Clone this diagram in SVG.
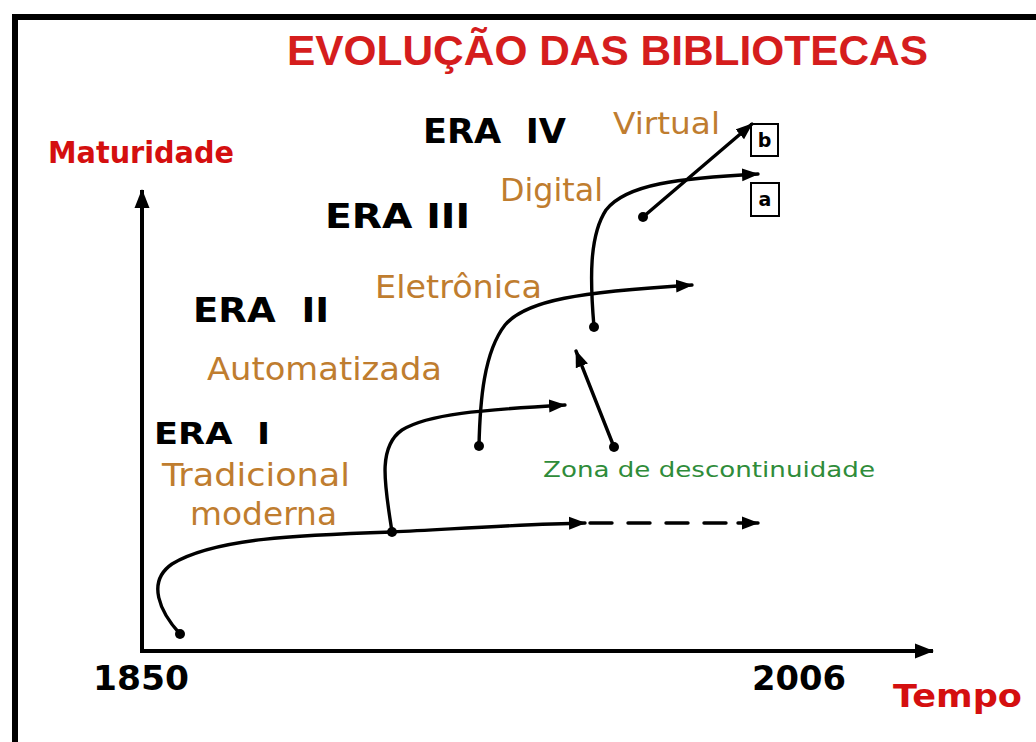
<svg xmlns="http://www.w3.org/2000/svg" width="1036" height="742" viewBox="0 0 1036 742">
<defs>
<style>
.title{font-family:"Liberation Sans",Arial,sans-serif;font-weight:bold;fill:#d51d1d}
.red{font-family:"DejaVu Sans",Verdana,sans-serif;font-weight:bold;fill:#d40f0f}
.era{font-family:"DejaVu Sans",Verdana,sans-serif;font-weight:bold;fill:#000;white-space:pre}
.yr{font-family:"DejaVu Sans",Verdana,sans-serif;font-weight:bold;fill:#000}
.lbl{font-family:"DejaVu Sans",Verdana,sans-serif;fill:#bf7d2f}
.zona{font-family:"DejaVu Sans",Verdana,sans-serif;fill:#2f8c3a}
.box{fill:#fff;stroke:#000;stroke-width:2}
.boxt{font-family:"DejaVu Sans",Verdana,sans-serif;font-weight:bold;font-size:19px;fill:#000}
.ln{fill:none;stroke:#000;stroke-width:3.4;stroke-linecap:round}
.axis{fill:none;stroke:#000;stroke-width:4}
.dot{fill:#000}
</style>
<marker id="ah" markerUnits="userSpaceOnUse" markerWidth="18" markerHeight="14" refX="16" refY="7" orient="auto">
<path d="M0,0.5 L17,7 L0,13.5 Z" fill="#000"/>
</marker>
<marker id="ahAxis" markerUnits="userSpaceOnUse" markerWidth="20" markerHeight="16" refX="18" refY="8" orient="auto">
<path d="M0,0.5 L19,8 L0,15.5 Z" fill="#000"/>
</marker>
</defs>
<rect width="1036" height="742" fill="#fff"/>
<path d="M15,742 V17 H1036" fill="none" stroke="#000" stroke-width="6"/>

<text class="title" x="287" y="65" font-size="42" textLength="641" lengthAdjust="spacingAndGlyphs">EVOLUÇÃO DAS BIBLIOTECAS</text>

<g id="axes">
<path class="axis" d="M142,651 V190" marker-end="url(#ahAxis)"/>
<path class="axis" d="M140,651 H933" marker-end="url(#ahAxis)"/>
<text class="red" x="48" y="163" font-size="30" textLength="186" lengthAdjust="spacingAndGlyphs">Maturidade</text>
<text class="red" x="893" y="707" font-size="32" textLength="129" lengthAdjust="spacingAndGlyphs">Tempo</text>
<text class="yr" x="93" y="690" font-size="33" textLength="96" lengthAdjust="spacingAndGlyphs">1850</text>
<text class="yr" x="752" y="690" font-size="33" textLength="94" lengthAdjust="spacingAndGlyphs">2006</text>
</g>

<g id="era1">
<text class="era" x="154" y="444" font-size="31" textLength="116" lengthAdjust="spacingAndGlyphs">ERA  I</text>
<text class="lbl" x="162" y="486" font-size="32" textLength="188" lengthAdjust="spacingAndGlyphs">Tradicional</text>
<text class="lbl" x="190" y="525" font-size="32" textLength="147" lengthAdjust="spacingAndGlyphs">moderna</text>
</g>
<g id="era2">
<text class="era" x="193" y="322" font-size="34" textLength="136" lengthAdjust="spacingAndGlyphs">ERA  II</text>
<text class="lbl" x="207" y="380" font-size="32" textLength="235" lengthAdjust="spacingAndGlyphs">Automatizada</text>
<text class="lbl" x="375" y="298" font-size="32" textLength="167" lengthAdjust="spacingAndGlyphs">Eletrônica</text>
</g>
<g id="era3">
<text class="era" x="325" y="228" font-size="34" textLength="145" lengthAdjust="spacingAndGlyphs">ERA III</text>
<text class="lbl" x="500" y="201" font-size="32" textLength="103" lengthAdjust="spacingAndGlyphs">Digital</text>
</g>
<g id="era4">
<text class="era" x="423" y="143" font-size="34" textLength="143" lengthAdjust="spacingAndGlyphs">ERA  IV</text>
<text class="lbl" x="613" y="134" font-size="31" textLength="107" lengthAdjust="spacingAndGlyphs">Virtual</text>
</g>
<g id="zona">
<text class="zona" x="543" y="477" font-size="22" textLength="332" lengthAdjust="spacingAndGlyphs">Zona de descontinuidade</text>
</g>
<g id="box-b">
<rect class="box" x="751" y="124" width="27" height="32"/>
<text class="boxt" x="764.5" y="147" text-anchor="middle">b</text>
</g>
<g id="box-a">
<rect class="box" x="751" y="183" width="28" height="33"/>
<text class="boxt" x="765" y="206" text-anchor="middle">a</text>
</g>

<g id="connectors">
<path class="ln" d="M180,634 C160,612 146,582 172,564 C215,538 300,535 392,532 C470,528 530,524 585,523" marker-end="url(#ah)"/>
<path class="ln" d="M590,523 H738" stroke-dasharray="22,16" stroke-linecap="butt"/>
<path class="ln" d="M738,523 H758" marker-end="url(#ah)"/>
<path class="ln" d="M392,532 C386,490 376,448 402,430 C428,414 480,410 565,405" marker-end="url(#ah)"/>
<path class="ln" d="M479,446 C480,400 484,352 505,325 C526,300 580,292 692,285" marker-end="url(#ah)"/>
<path class="ln" d="M594,327 C590,280 589,236 606,210 C626,184 680,178 758,174" marker-end="url(#ah)"/>
<path class="ln" d="M643,217 L752,124" marker-end="url(#ah)"/>
<path class="ln" d="M614,447 L576,351" marker-end="url(#ah)"/>
<circle class="dot" cx="180" cy="634" r="5"/>
<circle class="dot" cx="392" cy="532" r="5"/>
<circle class="dot" cx="479" cy="446" r="5"/>
<circle class="dot" cx="594" cy="327" r="5"/>
<circle class="dot" cx="614" cy="447" r="5"/>
<circle class="dot" cx="643" cy="217" r="5"/>
</g>
</svg>
